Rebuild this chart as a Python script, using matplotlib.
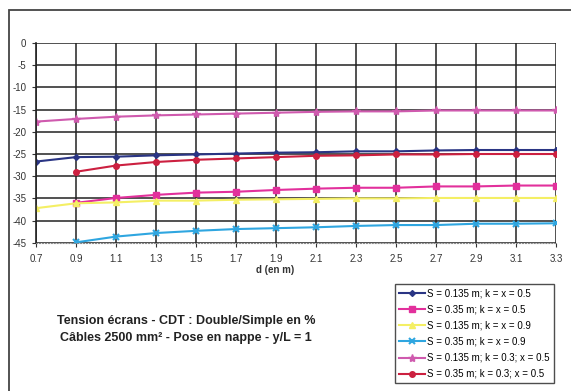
import numpy as np
import matplotlib
matplotlib.use("Agg")
import matplotlib.pyplot as plt
from matplotlib.patches import Rectangle

plt.rcParams['font.family'] = ['Liberation Sans', 'DejaVu Sans']
plt.rcParams['axes.unicode_minus'] = False

# distances d (en m)
d = [0.7, 0.9, 1.1, 1.3, 1.5, 1.7, 1.9, 2.1, 2.3, 2.5, 2.7, 2.9, 3.1, 3.3]
x_labels = ["0.7", "0.9", "1.1", "1.3", "1.5", "1.7", "1.9", "2.1", "2.3", "2.5", "2.7", "2.9", "3.1", "3.3"]

nan = np.nan
s135_k05 = [-26.7, -25.7, -25.6, -25.3, -25.1, -24.9, -24.7, -24.6, -24.4, -24.4, -24.2, -24.1, -24.1, -24.1]
s35_k05 = [nan, -36.0, -34.9, -34.2, -33.7, -33.5, -33.1, -32.8, -32.6, -32.6, -32.3, -32.3, -32.1, -32.1]
s135_k09 = [-37.2, -36.1, -35.9, -35.5, -35.5, -35.3, -35.2, -35.1, -35.0, -35.0, -34.9, -34.9, -34.9, -34.9]
s35_k09 = [nan, -44.9, -43.6, -42.8, -42.3, -41.9, -41.7, -41.5, -41.2, -41.0, -41.0, -40.7, -40.7, -40.6]
s135_k03 = [-17.7, -17.1, -16.6, -16.3, -16.1, -15.9, -15.7, -15.5, -15.4, -15.4, -15.2, -15.2, -15.2, -15.2]
s35_k03 = [nan, -29.0, -27.6, -26.8, -26.3, -26.0, -25.7, -25.4, -25.3, -25.1, -25.1, -25.0, -25.0, -25.0]

labels = [
    "S = 0.135 m; k = x = 0.5",
    "S = 0.35 m; k = x = 0.5",
    "S = 0.135 m; k = x = 0.9",
    "S = 0.35 m; k = x = 0.9",
    "S = 0.135 m; k = 0.3; x = 0.5",
    "S = 0.35 m; k = 0.3; x = 0.5",
]

fig = plt.figure(figsize=(5.71, 3.91), dpi=100)
ax = fig.add_axes([0.063, 0.379, 0.911, 0.511])

series = [s135_k05, s35_k05, s135_k09, s35_k09, s135_k03, s35_k03]
styles = [
    dict(color='#2a3584', marker='D', ms=3),
    dict(color='#e2309c', marker='s', ms=4.5),
    dict(color='#f4ef64', marker='^', ms=5),
    dict(color='#2fa6e0', marker='x', ms=5, mew=1.5),
    dict(color='#cf5aae', marker='*', ms=6),
    dict(color='#cc2040', marker='o', ms=4),
]
for ys, st, lab in zip(series, styles, labels):
    ax.plot(d, ys, lw=1.5, label=lab, **st)

ax.set_xlim(0.7, 3.3)
ax.set_ylim(-45, 0)
ax.set_xticks(d)
ax.set_xticklabels(x_labels)
ax.set_yticks(np.arange(-45, 1, 5))
ax.grid(True, color='#222222', lw=1.1)
ax.set_axisbelow(True)
ax.tick_params(labelsize=7, colors='#333333', length=3, pad=4)
ax.tick_params(axis='x', pad=5)
for sp in ['top', 'right']:
    ax.spines[sp].set_visible(False)
ax.spines['left'].set_color('#222222')
ax.spines['left'].set_linewidth(1.2)
ax.spines['bottom'].set_color('#888888')
ax.spines['bottom'].set_linestyle(':')

fig.text(0.482, 0.31, "d (en m)", fontsize=7, fontweight='bold', color='#333333', ha='center', va='center')

fig.text(0.326, 0.157, "Tension écrans - CDT : Double/Simple en %\nCâbles 2500 mm² - Pose en nappe - y/L = 1",
         fontsize=9, fontweight='bold', color='#222222', ha='center', va='center', linespacing=1.6)

leg = fig.legend(loc='upper left', bbox_to_anchor=(0.683, 0.285), fontsize=7, frameon=True,
                 fancybox=False, edgecolor='#222222', labelspacing=0.62, handlelength=2.6,
                 borderpad=0.45, handletextpad=0.3)
leg.get_frame().set_linewidth(1.0)

# outer frame of the chart
fig.add_artist(Rectangle((9 / 571, -0.05), 1.2, 1 - 10 / 391 + 0.05, transform=fig.transFigure,
                         fill=False, edgecolor='#444444', lw=1.3))

fig.savefig("out.png", dpi=100)
